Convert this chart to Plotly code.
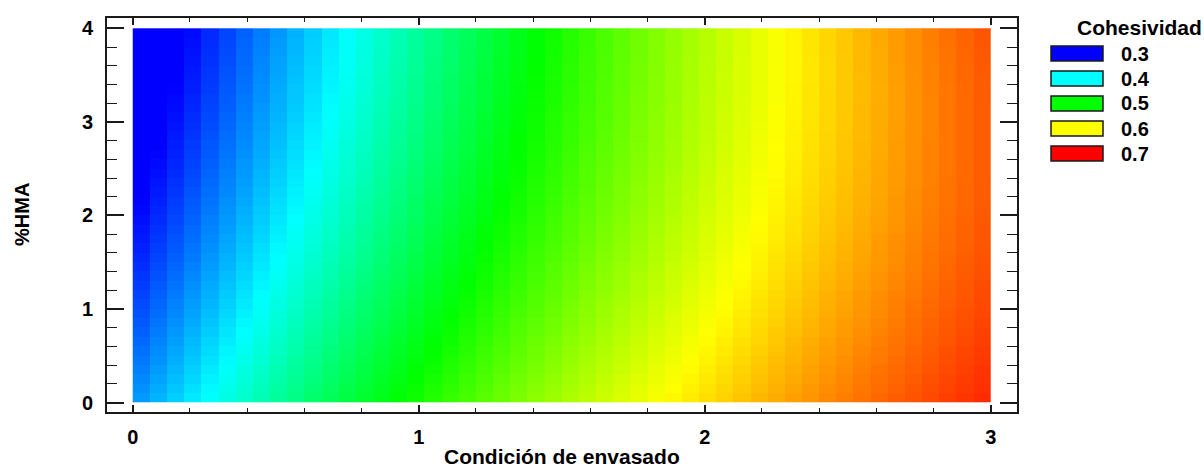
import numpy as np
import plotly.graph_objects as go

# Fitted response surface for Cohesividad:
#   z = b0 + b_y*y + b_yy*y^2 + (b_x + b_xy*y)*x + b_xx*x^2 + b_xxx*x^3
coef_names = ["b0", "b_y", "b_yy", "b_x", "b_xy", "b_xx", "b_xxx"]
coef_values = [0.3563, -0.0342, 0.0026, 0.1815, 0.0066, -0.032, 0.0027]

# evaluation grid (cell centres): 50 columns over x in [0, 3], 40 rows over y in [0, 4]
x_cells = 50
y_cells = 40
x_limits = [0.0, 3.0]
y_limits = [0.0, 4.0]

# legend levels and colours
legend_levels = [0.3, 0.4, 0.5, 0.6, 0.7]
legend_colors = ["#0000ff", "#00ffff", "#00ff00", "#ffff00", "#ff0000"]

x_ticks = [0, 1, 2, 3]
y_ticks = [0, 1, 2, 3, 4]

c = dict(zip(coef_names, coef_values))
dx = (x_limits[1] - x_limits[0]) / x_cells
dy = (y_limits[1] - y_limits[0]) / y_cells
xs = x_limits[0] + dx * (np.arange(x_cells) + 0.5)
ys = y_limits[0] + dy * (np.arange(y_cells) + 0.5)
X, Y = np.meshgrid(xs, ys)
Z = (c["b0"] + c["b_y"] * Y + c["b_yy"] * Y ** 2
     + (c["b_x"] + c["b_xy"] * Y) * X + c["b_xx"] * X ** 2 + c["b_xxx"] * X ** 3)

zmin, zmax = legend_levels[0], legend_levels[-1]
colorscale = [[(lv - zmin) / (zmax - zmin), col] for lv, col in zip(legend_levels, legend_colors)]

FONT = "Liberation Sans, Arial, sans-serif"
INK = "#1a1a1a"

fig = go.Figure(go.Heatmap(
    x=xs, y=ys, z=Z,
    colorscale=colorscale, zmin=zmin, zmax=zmax,
    showscale=False, zsmooth=False, hoverinfo="skip",
))

W, H = 1204, 468
ML, MR, MT, MB = 107, 187, 18, 56
PW, PH = W - ML - MR, H - MT - MB


def px_x(p):
    return (p - ML) / PW


def px_y(p):
    return (H - MB - p) / PH


axis_common = dict(
    showline=True, linecolor=INK, linewidth=2, mirror="ticks",
    ticks="inside", tickcolor=INK, tickwidth=1.5,
    showgrid=False, zeroline=False,
    tickfont=dict(family=FONT, size=20, color="black", weight="bold"),
)

fig.update_xaxes(
    range=[-0.09, 3.092], tickvals=x_ticks, ticklen=7, ticklabelstandoff=6,
    minor=dict(dtick=0.2, tick0=0, ticks="inside", ticklen=4, tickcolor=INK, tickwidth=1.2),
    **axis_common,
)
fig.update_yaxes(
    range=[-0.1, 4.11], tickvals=y_ticks, ticklen=17, ticklabelstandoff=8,
    minor=dict(dtick=0.2, tick0=0, ticks="inside", ticklen=10, tickcolor=INK, tickwidth=1.2),
    **axis_common,
)

shapes = []
annotations = []

# axis titles
annotations.append(dict(
    text="Condición de envasado", xref="paper", yref="paper",
    x=0.5, y=px_y(456), xanchor="center", yanchor="middle", showarrow=False,
    font=dict(family=FONT, size=21, color="black", weight="bold"),
))
annotations.append(dict(
    text="%HMA", xref="paper", yref="paper",
    x=px_x(22), y=px_y(215), xanchor="center", yanchor="middle", showarrow=False,
    textangle=-90,
    font=dict(family=FONT, size=20, color="black", weight="bold"),
))

# legend: title, swatches and labels
annotations.append(dict(
    text="Cohesividad", xref="paper", yref="paper",
    x=px_x(1139), y=px_y(28), xanchor="center", yanchor="middle", showarrow=False,
    font=dict(family=FONT, size=21, color="black", weight="bold"),
))
for i, (lv, col) in enumerate(zip(legend_levels, legend_colors)):
    top = 46 + 25 * i
    shapes.append(dict(
        type="rect", xref="paper", yref="paper",
        x0=px_x(1051), x1=px_x(1103), y0=px_y(top + 15), y1=px_y(top),
        fillcolor=col, line=dict(color=INK, width=1.5),
    ))
    annotations.append(dict(
        text=f"{lv:.1f}", xref="paper", yref="paper",
        x=px_x(1119), y=px_y(top + 7.5), xanchor="left", yanchor="middle", showarrow=False,
        font=dict(family=FONT, size=20, color="black", weight="bold"),
    ))

fig.update_layout(
    width=W, height=H,
    margin=dict(l=ML, r=MR, t=MT, b=MB, autoexpand=False),
    paper_bgcolor="white", plot_bgcolor="white",
    showlegend=False,
    shapes=shapes, annotations=annotations,
)

fig.write_html("out.html", config={"displayModeBar": False})
